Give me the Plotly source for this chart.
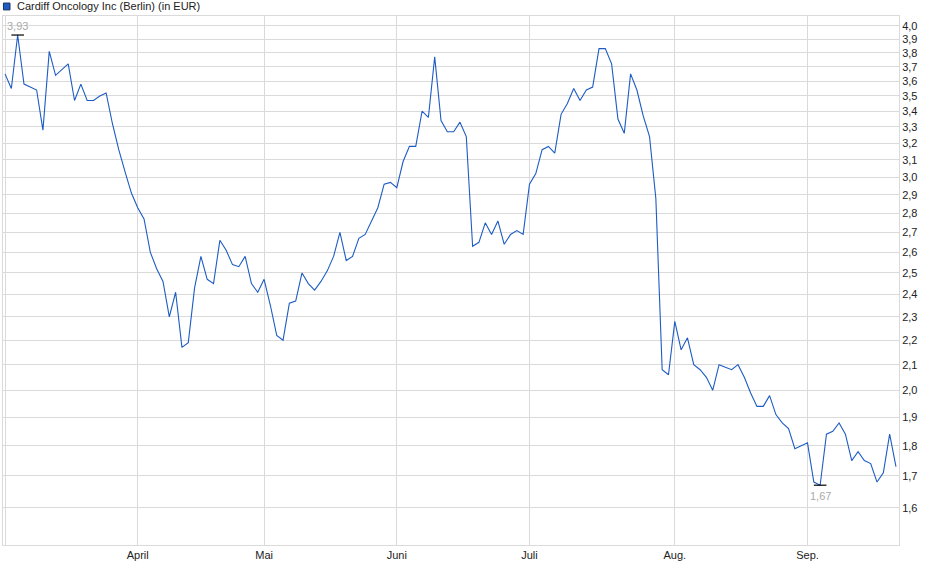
import math
import plotly.graph_objects as go

# Schlusskurse (EUR) je Handelstag, pro Monat
kurs_maerz = [3.65, 3.55, 3.93, 3.58, 3.56, 3.54, 3.28, 3.81, 3.64, 3.68, 3.72,
              3.47, 3.58, 3.47, 3.47, 3.50, 3.52, 3.32, 3.16, 3.03, 2.91]
kurs_april = [2.83, 2.77, 2.60, 2.52, 2.46, 2.30, 2.41, 2.17, 2.19, 2.43, 2.58,
              2.47, 2.45, 2.66, 2.61, 2.54, 2.53, 2.58, 2.45, 2.41]
kurs_mai = [2.47, 2.35, 2.22, 2.20, 2.36, 2.37, 2.50, 2.45, 2.42, 2.46, 2.51,
            2.58, 2.70, 2.56, 2.58, 2.67, 2.69, 2.76, 2.83, 2.96, 2.97]
kurs_juni = [2.94, 3.09, 3.18, 3.18, 3.40, 3.36, 3.77, 3.34, 3.27, 3.27, 3.33,
             3.24, 2.63, 2.65, 2.75, 2.69, 2.76, 2.64, 2.69, 2.71, 2.69]
kurs_juli = [2.96, 3.02, 3.16, 3.18, 3.14, 3.38, 3.45, 3.55, 3.47, 3.54, 3.56,
             3.83, 3.83, 3.72, 3.35, 3.26, 3.65, 3.54, 3.37, 3.24, 2.88, 2.08, 2.06]
kurs_aug = [2.28, 2.16, 2.21, 2.10, 2.08, 2.05, 2.00, 2.10, 2.09, 2.08, 2.10,
            2.05, 1.99, 1.94, 1.94, 1.98, 1.91, 1.88, 1.86, 1.79, 1.80]
kurs_sep = [1.81, 1.68, 1.67, 1.84, 1.85, 1.88, 1.84, 1.75, 1.78, 1.75, 1.74,
            1.68, 1.71, 1.84, 1.73]

monate = ["", "April", "Mai", "Juni", "Juli", "Aug.", "Sep."]
y_ticks = [1.6, 1.7, 1.8, 1.9, 2.0, 2.1, 2.2, 2.3, 2.4, 2.5, 2.6, 2.7, 2.8,
           2.9, 3.0, 3.1, 3.2, 3.3, 3.4, 3.5, 3.6, 3.7, 3.8, 3.9, 4.0]

reihen = [kurs_maerz, kurs_april, kurs_mai, kurs_juni, kurs_juli, kurs_aug, kurs_sep]
kurse = [k for r in reihen for k in r]
x = list(range(len(kurse)))

# Monatsanfang = erster Handelstag im Monat
monat_start = []
pos = 0
for r in reihen:
    monat_start.append(pos)
    pos += len(r)

i_max = kurse.index(max(kurse))
i_min = kurse.index(min(kurse))

GRID = "#dadada"
BLAU = "#1d5cc4"
FONT = "Arial, Liberation Sans, sans-serif"

fig = go.Figure()
fig.add_trace(go.Scatter(x=x, y=kurse, mode="lines",
                         line=dict(color=BLAU, width=1.1),
                         showlegend=False, hoverinfo="skip"))

# Hoch / Tief Markierung
fig.add_trace(go.Scatter(x=[i_max, i_min], y=[kurse[i_max], kurse[i_min]],
                         mode="markers",
                         marker=dict(symbol="line-ew", size=9,
                                     line=dict(color="black", width=1.2)),
                         showlegend=False, hoverinfo="skip"))

fig.add_annotation(x=i_max, y=math.log10(kurse[i_max]), text=f"{kurse[i_max]:.2f}".replace(".", ","),
                   showarrow=False, yshift=9, font=dict(size=11, color="#aaaaaa", family=FONT))
fig.add_annotation(x=i_min, y=math.log10(kurse[i_min]), text=f"{kurse[i_min]:.2f}".replace(".", ","),
                   showarrow=False, yshift=-11, font=dict(size=11, color="#aaaaaa", family=FONT))

# Titel mit Legendenkaestchen
fig.add_shape(type="rect", xref="paper", yref="paper",
              x0=0.0005, x1=0.0078, y0=1.0115, y1=1.0245,
              fillcolor=BLAU, line=dict(color="#1c2f5c", width=1))
fig.add_annotation(xref="paper", yref="paper", x=0.0134, y=1.018,
                   xanchor="left", yanchor="middle", showarrow=False,
                   text="Cardiff Oncology Inc (Berlin) (in EUR)",
                   font=dict(size=11, color="#222222", family=FONT))

fig.update_xaxes(range=[-0.32, len(kurse) - 0.52],
                 tickmode="array", tickvals=monat_start, ticktext=monate,
                 showgrid=True, gridcolor=GRID, gridwidth=1,
                 showline=True, linecolor=GRID, linewidth=1, mirror=True,
                 zeroline=False, ticks="", tickfont=dict(size=11, color="#222222", family=FONT))

fig.update_yaxes(type="log", range=[0.17334, 0.6101], side="right",
                 tickmode="array", tickvals=y_ticks, tickformat=".1f",
                 showgrid=True, gridcolor=GRID, gridwidth=1,
                 showline=True, linecolor=GRID, linewidth=1, mirror=True,
                 zeroline=False, ticks="", tickfont=dict(size=11, color="#222222", family=FONT))

fig.update_layout(width=940, height=579,
                  margin=dict(l=3, r=41, t=16, b=34),
                  plot_bgcolor="white", paper_bgcolor="white",
                  separators=",.",
                  font=dict(family=FONT))

# Standard-Rand des Browsers entfernen, damit die Grafik bei 0/0 beginnt
fig.write_html("out.html", config={"displayModeBar": False},
               post_script="document.body.style.margin='0px';")
